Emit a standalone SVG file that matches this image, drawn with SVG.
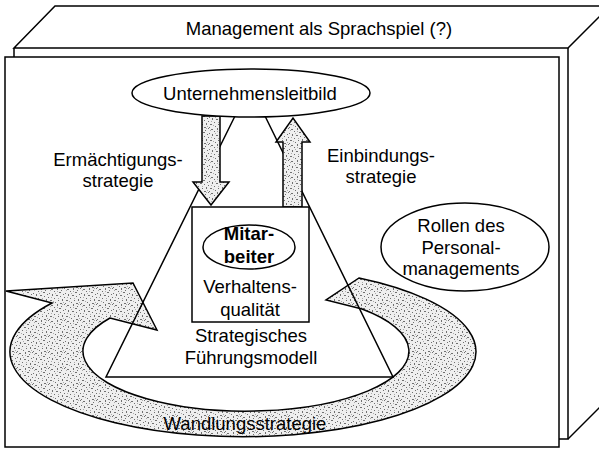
<svg xmlns="http://www.w3.org/2000/svg" width="599" height="449" viewBox="0 0 599 449">
  <defs>
    <!-- stippled grey fill used by the strategy arrows -->
    <pattern id="stipple" width="16" height="16" patternUnits="userSpaceOnUse">
      <rect width="16" height="16" fill="#efefef"/>
      <g fill="#707070">
        <rect x="0" y="0" width="1" height="1"/>
        <rect x="3" y="1" width="2" height="1"/>
        <rect x="9" y="0" width="1" height="2"/>
        <rect x="13" y="2" width="1" height="1"/>
        <rect x="6" y="3" width="1" height="1"/>
        <rect x="11" y="4" width="2" height="1"/>
        <rect x="1" y="5" width="1" height="1"/>
        <rect x="4" y="6" width="1" height="2"/>
        <rect x="15" y="6" width="1" height="1"/>
        <rect x="8" y="7" width="2" height="1"/>
        <rect x="12" y="8" width="1" height="1"/>
        <rect x="0" y="9" width="1" height="1"/>
        <rect x="6" y="10" width="1" height="1"/>
        <rect x="14" y="11" width="1" height="2"/>
        <rect x="2" y="12" width="2" height="1"/>
        <rect x="10" y="12" width="1" height="1"/>
        <rect x="7" y="14" width="1" height="1"/>
        <rect x="12" y="15" width="2" height="1"/>
        <rect x="1" y="15" width="1" height="1"/>
      </g>
      <g fill="#ababab">
        <rect x="2" y="2" width="1" height="1"/>
        <rect x="7" y="5" width="1" height="1"/>
        <rect x="14" y="0" width="1" height="1"/>
        <rect x="3" y="9" width="1" height="1"/>
        <rect x="10" y="10" width="1" height="1"/>
        <rect x="5" y="13" width="1" height="1"/>
        <rect x="15" y="14" width="1" height="1"/>
        <rect x="9" y="3" width="1" height="1"/>
      </g>
    </pattern>
    <style>
      .ln { fill: none; stroke: #000; stroke-width: 1.5; stroke-linejoin: miter; }
      .shape { fill: #fff; stroke: #000; stroke-width: 1.5; }
      .arrow { fill: url(#stipple); stroke: #000; stroke-width: 1.5; stroke-linejoin: miter; }
      text { font-family: "Liberation Sans", Arial, sans-serif; font-size: 18.5px; fill: #000; text-anchor: middle; }
      .bold { font-weight: bold; }
    </style>
  </defs>

  <rect width="599" height="449" fill="#fff"/>

  <!-- box frame: top face, right face and front face -->
  <g id="frame">
    <polygon points="14,48 55,6 610,6 568,48" fill="#fff" stroke="#000" stroke-width="1.5"/>
    <polyline class="ln" points="568,48 568,439 559,439"/>
    <line class="ln" x1="568" y1="439" x2="610" y2="397"/>
    <line class="ln" x1="14" y1="48" x2="14" y2="57"/>
    <rect class="shape" x="5" y="57" width="554" height="390"/>
    <text x="319" y="35">Management als Sprachspiel (?)</text>
  </g>

  <!-- curved change arrow around the model -->
  <g id="wandlung">
    <path class="arrow" d="M 6,291 L 133,283 L 157,330 L 110,318 A 163 60 0 1 0 362,309 L 326,300 L 359,278 A 233 85 0 1 1 52,303 Z"/>
    <text x="245" y="430">Wandlungsstrategie</text>
  </g>

  <!-- strategic leadership model (triangle) -->
  <g id="fuehrungsmodell">
    <polyline class="ln" points="235,116 106,377 393,377 265,116"/>
    <text x="251" y="342">Strategisches</text>
    <text x="251" y="364">Führungsmodell</text>
  </g>

  <!-- connectors between mission statement and employee -->
  <g id="connectors">
    <polygon class="arrow" points="202,116 220,116 220,182 229,182 211,205 193,182 202,182"/>
    <polygon class="arrow" points="283,207 302,207 302,142 310,142 293,118 276,142 283,142"/>
  </g>

  <g id="mitarbeiter">
    <rect class="shape" x="192" y="207" width="117" height="115"/>
    <ellipse class="shape" cx="249" cy="247" rx="46" ry="22"/>
    <text class="bold" x="249" y="240">Mitar-</text>
    <text class="bold" x="249" y="263">beiter</text>
    <text x="250" y="293">Verhaltens-</text>
    <text x="250" y="316">qualität</text>
  </g>

  <g id="leitbild">
    <ellipse class="shape" cx="251" cy="93" rx="119" ry="24"/>
    <text x="250" y="100">Unternehmensleitbild</text>
  </g>

  <g id="ermaechtigung">
    <text x="118" y="166">Ermächtigungs-</text>
    <text x="118" y="187">strategie</text>
  </g>

  <g id="einbindung">
    <text x="381" y="162">Einbindungs-</text>
    <text x="381" y="183">strategie</text>
  </g>

  <g id="rollen">
    <ellipse class="shape" cx="465" cy="247" rx="84" ry="44"/>
    <text x="461" y="232">Rollen des</text>
    <text x="461" y="254">Personal-</text>
    <text x="461" y="275">managements</text>
  </g>
</svg>
